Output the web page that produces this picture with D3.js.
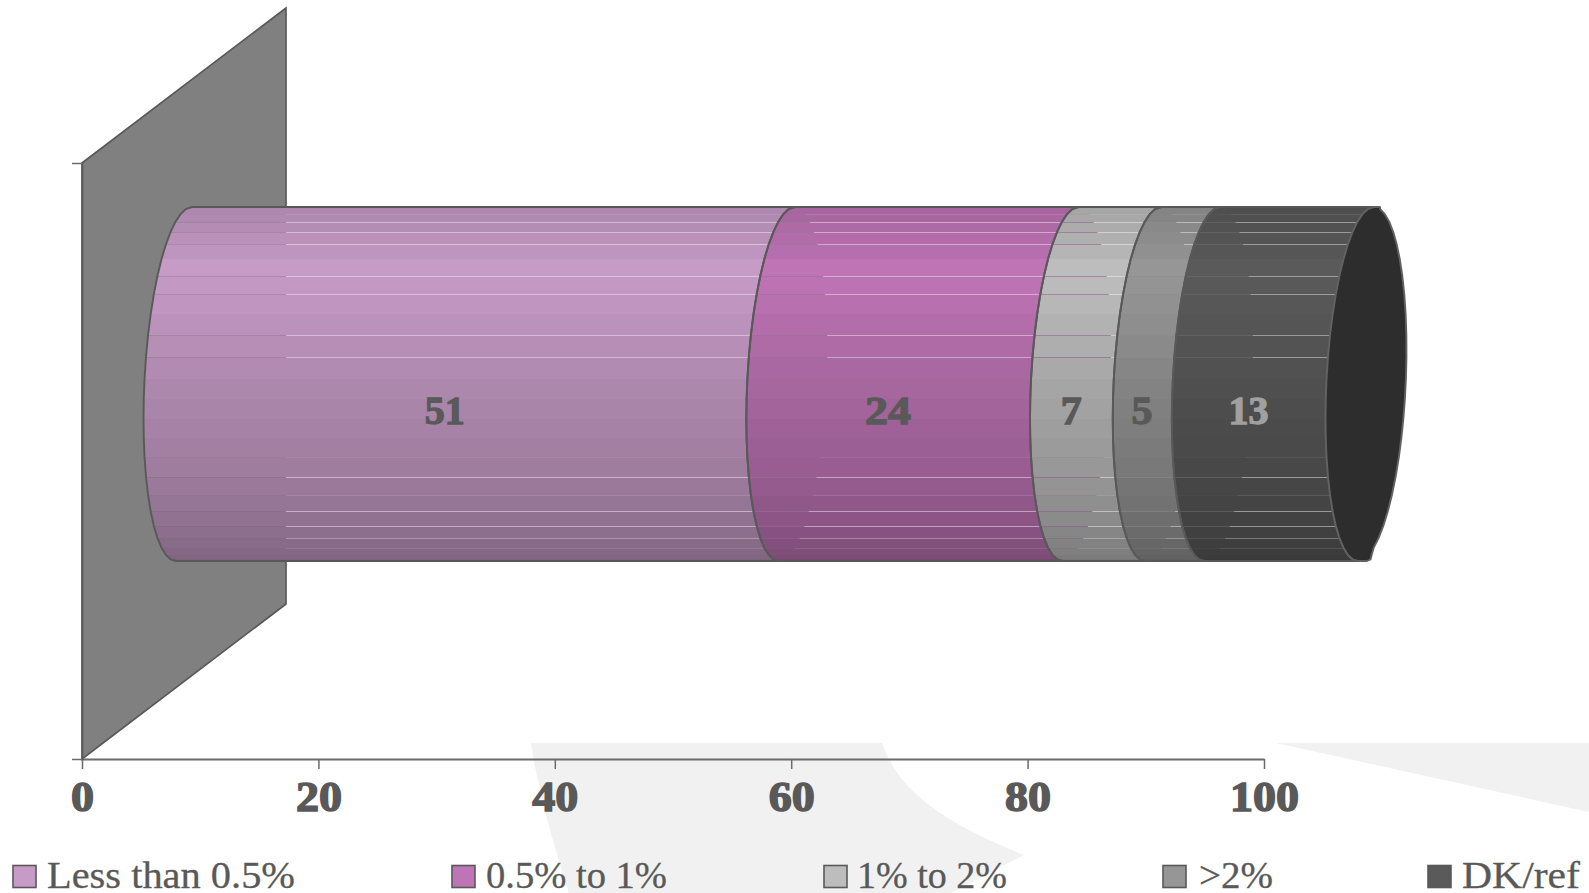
<!DOCTYPE html>
<html><head><meta charset="utf-8">
<script src="https://cdn.jsdelivr.net/npm/d3@7/dist/d3.min.js"></script>
<style>html,body{margin:0;padding:0;background:#fff;overflow:hidden}svg{display:block}</style>
</head><body><svg id="c" width="1589" height="893"></svg>
<script>
// ---- data ----
const categories = [""];
const seriesNames = ["Less than 0.5%", "0.5% to 1%", "1% to 2%", ">2%", "DK/ref"];
const seriesValues = [51, 24, 7, 5, 13];
const tickLabels = [0, 20, 40, 60, 80, 100];
// ---- style ----
const seriesColors = ["#C69BC6", "#BE74B5", "#BDBDBD", "#969696", "#5A5A5A"];
const labelColors = ["#595959", "#595959", "#595959", "#595959", "#A0A0A0"];
const labelWidths = [40, 46, 21, 21, 40];
const legendSwatchX = [13, 452, 824, 1163, 1428];
const legendTextX = [47, 486, 857, 1199, 1462];
const legendTextW = [248, 181, 150, 74, 118];
const INK = "#595959";

const svg = d3.select("#c");
const x = d3.scaleLinear().domain([0, 100]).range([82, 1264]);
const yBand = d3.scaleBand().domain(categories).range([759, 163]).padding(0.2547);
const wallDepth = 204, wallRise = 155;
const cy = yBand(categories[0]) + yBand.bandwidth() / 2 - wallRise / 2 + 0.5;
const R = yBand.bandwidth() / 2, rx = 39.7, skew = 8;
const cxOf = v => x(v) + wallDepth / 2;

// watermark shapes behind the chart
svg.append("path").attr("fill", "#f1f1f1")
  .attr("d", "M531,743 L882,743 C900,795 950,825 1024,855 L951,893 L569,893 C552,840 538,790 531,743 Z");
svg.append("path").attr("fill", "#f1f1f1").attr("d", "M1276,743 L1589,743 L1589,812 Z");

// back wall
const y0 = yBand.range()[0], y1 = yBand.range()[1];
svg.append("path").attr("fill", "#808080").attr("stroke", INK).attr("stroke-width", 1.7)
  .attr("d", d3.line()([[x(0), y1], [x(0) + wallDepth, y1 - wallRise], [x(0) + wallDepth, y0 - wallRise], [x(0), y0]]) + "Z");

// facet angles of the faceted cylinder, with the strength of the seam at each one
const phis = [90, 80.9, 73.7, 66.5, 59.3, 52.1, 45, 37.8, 30.5, 23.3, 16, 8.8, 1.6, -4.9, -11.4, -17.9, -24.4, -31.6, -38.8, -46, -53.2, -60.4, -67.6, -74.8, -82, -90];
const seamAlpha = [0, 0, .1, .42, .42, .42, 0, .42, .42, 0, .42, .42, 0, 0, 0, 0, .08, .45, .12, .45, .45, .3, .12, 0, 0, 0];
const shade = d3.scaleLinear()
  .domain([90, 70, 50, 42, 30, 10, -10, -30, -60, -90])
  .range([.86, .89, .95, 1, .98, .91, .85, .8, .7, .62]);
const rad = d => d * Math.PI / 180;
const yAt = p => cy - R * Math.sin(rad(p));
const frontX = (v, p) => cxOf(v) - rx * Math.cos(rad(p)) + skew * Math.sin(rad(p));
const backX = (v, p) => cxOf(v) + rx * Math.cos(rad(p)) + skew * Math.sin(rad(p));
const tint = (c, m) => { const r = d3.rgb(c); return d3.rgb(r.r * m, r.g * m, r.b * m).formatHex(); };

// stacked layout
const row = Object.fromEntries(seriesNames.map((n, i) => [n, seriesValues[i]]));
const stacked = d3.stack().keys(seriesNames)([row]).map(s => s[0]);
const line = d3.line();

// segments
stacked.forEach((s, i) => {
  const [v0, v1] = s;
  const g = svg.append("g");
  for (let k = 0; k < phis.length - 1; k++) {
    const a = phis[k], b = phis[k + 1];
    g.append("path").attr("fill", tint(seriesColors[i], shade((a + b) / 2))).attr("stroke", "none")
      .attr("shape-rendering", "crispEdges")
      .attr("d", line([[frontX(v0, a), yAt(a)], [frontX(v1, a), yAt(a)], [frontX(v1, b), yAt(b)], [frontX(v0, b), yAt(b)]]) + "Z");
  }
  // seams: where the bands meet the background shows through
  const wallRight = x(0) + wallDepth;
  phis.forEach((p, k) => {
    const alpha = seamAlpha[k];
    if (!alpha) return;
    const yy = Math.round(yAt(p)) + 0.5;
    const left = frontX(v0, p), right = frontX(v1, p), split = Math.min(right, backX(v0, p));
    const seg = (xa, xb, col, op) => { if (xb > xa) g.append("line").attr("x1", xa).attr("x2", xb).attr("y1", yy).attr("y2", yy).attr("stroke", col).attr("stroke-opacity", op); };
    if (i === 0) {
      seg(left, Math.min(wallRight, right), "#707070", alpha * .7);
      seg(Math.max(wallRight, left), right, "#ffffff", alpha);
    } else {
      seg(left, split, tint(seriesColors[i - 1], .75), alpha * 1.2);
      seg(split, right, "#ffffff", alpha);
    }
  });
});

// segment outlines
stacked.forEach(s => {
  const [v0, v1] = s;
  const pts = phis.map(p => [frontX(v0, p), yAt(p)]).concat(phis.slice().reverse().map(p => [frontX(v1, p), yAt(p)]));
  svg.append("path").attr("fill", "none").attr("stroke", INK).attr("stroke-width", 1.9).attr("stroke-linejoin", "round")
    .attr("d", line(pts) + "Z");
});

// end cap: flat facet at the top and bottom
const capFlat = p => (p === 90 ? 6 : p === -90 ? 9 : p === -82 ? 7 : p === -74.8 ? 3 : 0);
const capPts = phis.map(p => [frontX(100, p), yAt(p)]).concat(phis.slice().reverse().map(p => [backX(100, p) + capFlat(p), yAt(p)]));
svg.append("path").attr("fill", "#2D2D2D").attr("stroke", "#626262").attr("stroke-width", 1.9).attr("stroke-linejoin", "round")
  .attr("d", line(capPts) + "Z");

// value labels
svg.append("g").selectAll("text").data(stacked).join("text")
  .attr("x", d => cxOf((d[0] + d[1]) / 2) - rx - 1)
  .attr("y", cy + 40)
  .attr("text-anchor", "middle")
  .attr("font-family", "'Liberation Serif', serif").attr("font-weight", "bold").attr("font-size", 39)
  .attr("textLength", (d, i) => labelWidths[i]).attr("lengthAdjust", "spacingAndGlyphs")
  .attr("fill", (d, i) => labelColors[i]).attr("stroke", (d, i) => labelColors[i]).attr("stroke-width", 1.3)
  .text((d, i) => seriesValues[i]);

// axes
const xAxis = d3.axisBottom(x).tickValues(tickLabels).tickSize(10).tickSizeOuter(0).tickPadding(12).tickFormat(d => d);
const gx = svg.append("g").attr("transform", `translate(0,${y0})`).call(xAxis);
gx.select(".domain").attr("stroke", "#6b6b6b").attr("stroke-width", 2);
gx.selectAll(".tick line").attr("stroke", "#6b6b6b").attr("stroke-width", 1.5);
gx.selectAll("text").attr("font-family", "'Liberation Serif', serif").attr("font-weight", "bold").attr("font-size", 42)
  .attr("textLength", d => String(d).length * 23).attr("lengthAdjust", "spacingAndGlyphs")
  .attr("fill", INK).attr("stroke", INK).attr("stroke-width", 1.5);
const yScale = d3.scaleLinear().domain([0, 1]).range([y0, y1]);
const gy = svg.append("g").attr("transform", `translate(${x(0)},0)`)
  .call(d3.axisLeft(yScale).tickValues([0, 1]).tickSize(10).tickSizeOuter(0).tickFormat(""));
gy.select(".domain").attr("stroke", INK).attr("stroke-width", 1.7);
gy.selectAll(".tick line").attr("stroke", "#6b6b6b").attr("stroke-width", 1.5);

// legend
const lg = svg.append("g");
seriesNames.forEach((n, i) => {
  lg.append("rect").attr("x", legendSwatchX[i]).attr("y", 865.5).attr("width", 23).attr("height", 22)
    .attr("fill", seriesColors[i]).attr("stroke", INK).attr("stroke-width", 1.6);
  lg.append("text").attr("x", legendTextX[i]).attr("y", 888).attr("font-family", "'Liberation Serif', serif")
    .attr("font-size", 38.5).attr("fill", INK).attr("stroke", INK).attr("stroke-width", 0.3)
    .attr("textLength", legendTextW[i]).attr("lengthAdjust", "spacingAndGlyphs").text(n);
});
</script></body></html>
